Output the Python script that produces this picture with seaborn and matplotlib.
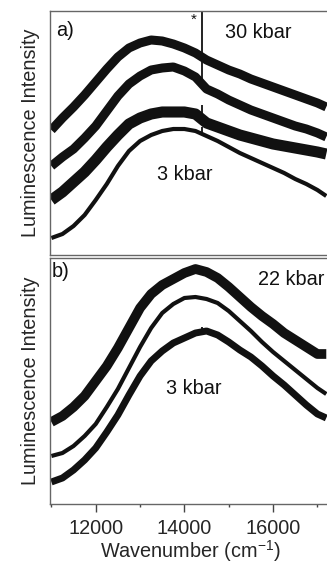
import matplotlib
matplotlib.use('Agg')
import matplotlib.pyplot as plt
import seaborn as sns

sns.set_style('white')
plt.rcParams['font.family'] = ['Liberation Sans', 'DejaVu Sans']
plt.rcParams['mathtext.fontset'] = 'custom'
plt.rcParams['mathtext.rm'] = 'Liberation Sans'
plt.rcParams['mathtext.it'] = 'Liberation Sans:italic'

# wavenumber grid (cm-1)
wn = [11000, 11250, 11500, 11750, 12000, 12250, 12500, 12750, 13000, 13250,
      13500, 13750, 14000, 14250, 14500, 14750, 15000, 15250, 15500, 15750,
      16000, 16250, 16500, 16750, 17000, 17200]

# panel a) - four spectra, top = 30 kbar, bottom = 3 kbar
a_30kbar = [125, 137, 148, 160, 173, 186, 198, 207, 212, 215, 214, 211, 207,
            202, 195, 190, 185, 181, 176, 172, 168, 164, 160, 156, 152, 148]
a_mid1 = [89, 98, 106, 117, 129, 144, 159, 171, 179, 185, 187, 188, 184,
          178, 166, 161, 155, 150, 145, 141, 137, 133, 129, 126, 122, 118]
a_mid2 = [55, 63, 73, 83, 95, 108, 120, 131, 137, 141, 143, 143, 143,
          141, 132, 128, 124, 120, 117, 114, 111, 109, 107, 105, 103, 101]
a_3kbar = [17, 21, 29, 40, 55, 71, 89, 104, 114, 120, 124, 126, 126,
           124, 119, 114, 108, 102, 97, 92, 87, 82, 76, 71, 65, 59]
# sharp line (*) at ~14400 cm-1
a_spike_wn = 14400
a_spike_base = [197, 173, 137, 122]
a_spike_top = [243, 200, 150, 128]

# panel b) - three spectra, top = 22 kbar, bottom = 3 kbar
b_22kbar = [82, 88, 97, 108, 123, 138, 156, 176, 196, 210, 219, 225, 231,
            235, 232, 226, 217, 207, 197, 188, 180, 171, 164, 157, 150, 150]
b_mid = [48, 51, 58, 68, 80, 97, 115, 136, 157, 176, 191, 200, 206,
         207, 205, 201, 193, 183, 173, 162, 152, 143, 134, 125, 116, 110]
b_3kbar = [22, 26, 34, 44, 56, 72, 89, 109, 128, 143, 153, 161, 166,
           171, 173, 169, 162, 154, 147, 138, 128, 119, 109, 99, 90, 86]

W, H = 327, 564
fig = plt.figure(figsize=(W / 100, H / 100), dpi=100)
ax1 = fig.add_axes([50 / W, 309 / H, 280 / W, 244 / H])
ax2 = fig.add_axes([50 / W, 60 / H, 280 / W, 246 / H])

ink = '#111111'
for vals, lw in zip([a_30kbar, a_mid1, a_mid2, a_3kbar], [6.5, 6.5, 8, 3]):
    sns.lineplot(x=wn, y=vals, ax=ax1, color=ink, linewidth=lw,
                 estimator=None, sort=False, solid_joinstyle='round',
                 solid_capstyle='butt')
ax1.vlines([a_spike_wn] * 4, a_spike_base, a_spike_top, color=ink, lw=1.3)

for vals, lw in zip([b_22kbar, b_mid, b_3kbar], [7, 3, 5]):
    sns.lineplot(x=wn, y=vals, ax=ax2, color=ink, linewidth=lw,
                 estimator=None, sort=False, solid_joinstyle='round',
                 solid_capstyle='butt')
ax2.vlines([a_spike_wn], [171], [177], color=ink, lw=1.3)

for ax, top in [(ax1, 244), (ax2, 246)]:
    ax.set_xlim(10969, 17284)
    ax.set_ylim(0, top)
    ax.set_yticks([])
    for s in ax.spines.values():
        s.set_color('#666666')
        s.set_linewidth(1.0)
    ax.set_ylabel('Luminescence Intensity', fontsize=14.3, labelpad=7)

ax1.set_xticks([])
ax1.set_xlabel('')
ax2.set_xticks([12000, 14000, 16000])
ax2.set_xticks([11000, 13000, 15000, 17000], minor=True)
ax2.tick_params(axis='x', which='major', direction='out', length=6,
                width=1, color='#444444', labelsize=14.3, pad=5,
                bottom=True)
ax2.tick_params(axis='x', which='minor', direction='out', length=2.5,
                width=1, color='#444444', bottom=True)
ax2.set_xlabel('Wavenumber (cm$^{-1}$)', fontsize=14.3, labelpad=0)

txt = dict(fontsize=14.3, color=ink)
ax1.text(11105, 225, 'a)', ha='left', va='center', **txt)
ax1.text(15660, 223, '30 kbar', ha='center', va='center', **txt)
ax1.text(14217, 235, '*', ha='center', va='center', fontsize=11, color=ink)
ax1.text(14014, 81, '3 kbar', ha='center', va='center', **txt)
ax2.text(11015, 232, 'b)', ha='left', va='center', **txt)
ax2.text(16403, 224, '22 kbar', ha='center', va='center', **txt)
ax2.text(14217, 115, '3 kbar', ha='center', va='center', **txt)

fig.savefig('out.png', dpi=100)
